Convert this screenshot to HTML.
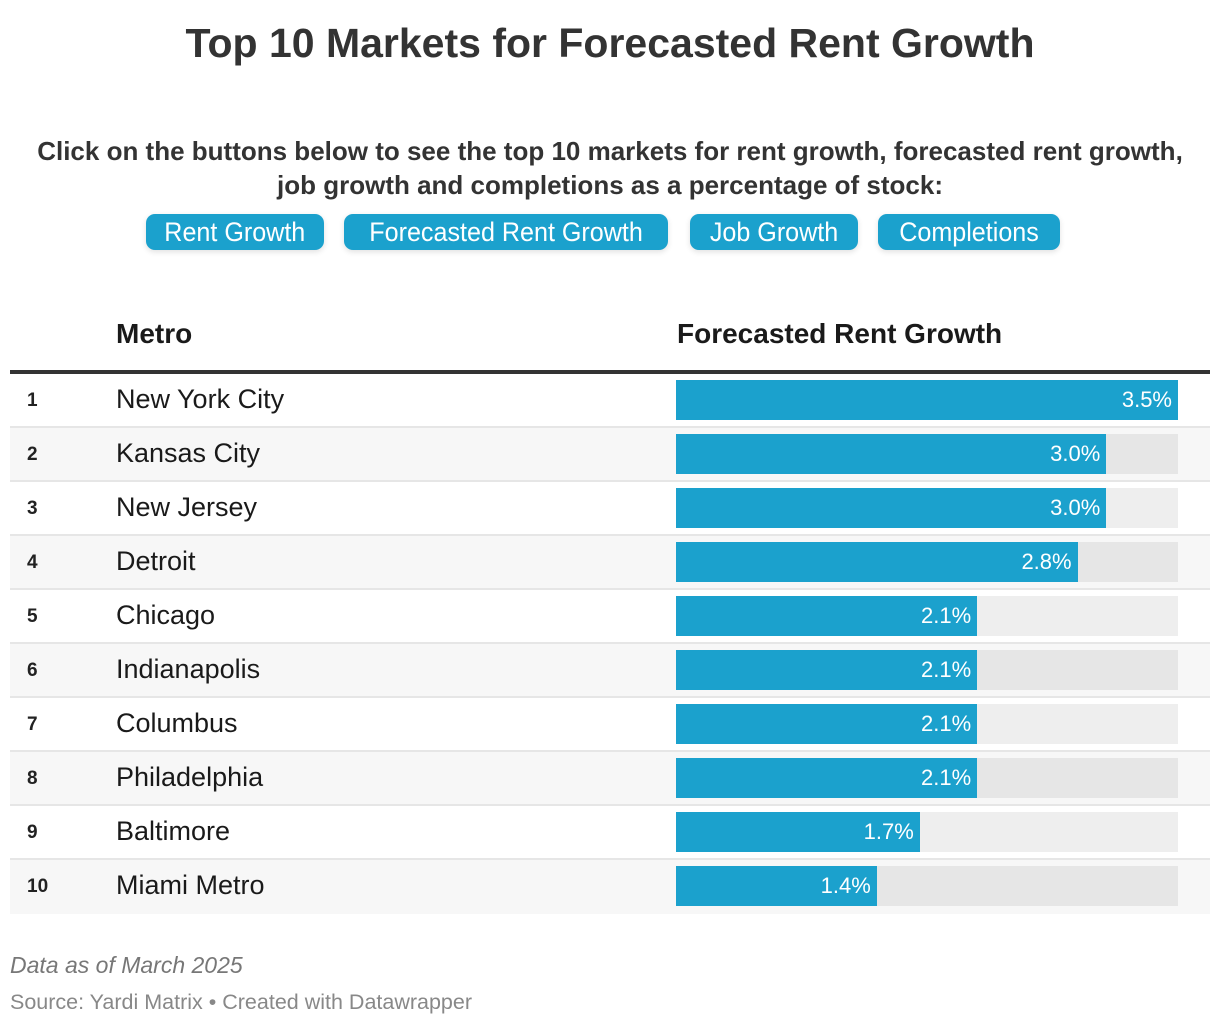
<!DOCTYPE html>
<html><head><meta charset="utf-8"><style>
body{margin:0;width:1220px;height:1026px;background:#fff;font-family:"Liberation Sans",sans-serif;color:#333;position:relative;overflow:hidden}
.abs{position:absolute;white-space:nowrap}
#title{left:0;width:1220px;top:20px;text-align:center;font-size:41px;font-weight:bold;color:#333}
.sub{left:0;width:1220px;text-align:center;font-size:26px;font-weight:bold;color:#333}
.btn{top:214px;height:36px;background:#1ba1cd;border-radius:9px;color:#fff;font-size:27px;line-height:36px;text-align:center;box-shadow:0 2px 6px rgba(0,0,0,.12)}
.btn span{display:inline-block;transform:scaleX(0.93)}
.hdr{top:318px;font-size:28px;font-weight:bold;color:#1a1a1a}
.row{left:10px;width:1200px;height:52px;border-bottom:2px solid #e6e6e6}
.rank{left:17px;font-size:19px;font-weight:bold;color:#222;top:16px}
.name{left:106px;font-size:27px;color:#1a1a1a;top:10px}
.track{left:666px;top:6px;width:502px;height:40px}
.bar{left:0;top:0;height:40px;background:#1ba1cd}
.val{right:6px;top:7px;font-size:22px;color:#fff}
</style></head><body>
<div class="abs" id="title">Top 10 Markets for Forecasted Rent Growth</div>
<div class="abs sub" style="top:136px">Click on the buttons below to see the top 10 markets for rent growth, forecasted rent growth,</div>
<div class="abs sub" style="top:170px">job growth and completions as a percentage of stock:</div>
<div class="abs btn" style="left:146px;width:178px"><span>Rent Growth</span></div>
<div class="abs btn" style="left:344px;width:324px"><span>Forecasted Rent Growth</span></div>
<div class="abs btn" style="left:690px;width:168px"><span>Job Growth</span></div>
<div class="abs btn" style="left:878px;width:182px"><span>Completions</span></div>
<div class="abs hdr" style="left:116px">Metro</div>
<div class="abs hdr" style="left:677px">Forecasted Rent Growth</div>
<div class="abs" style="left:10px;top:370px;width:1200px;height:4px;background:#333"></div>
<div id="rows"></div>
<div class="abs" style="left:10px;top:952px;font-size:23px;font-style:italic;color:#777">Data as of March 2025</div>
<div class="abs" style="left:10px;top:990px;font-size:21.5px;color:#888">Source: Yardi Matrix • Created with Datawrapper</div>
<script>
const metros=["New York City","Kansas City","New Jersey","Detroit","Chicago","Indianapolis","Columbus","Philadelphia","Baltimore","Miami Metro"];
const values=[3.5,3.0,3.0,2.8,2.1,2.1,2.1,2.1,1.7,1.4];
const maxValue=3.5;
const trackW=502;
function xScale(v){return v/maxValue*trackW;}
const container=document.getElementById('rows');
metros.forEach((m,i)=>{
  const row=document.createElement('div');
  row.className='abs row';
  
  
  row.style.top=(374+i*54)+'px';
  row.style.background=i%2?'#f7f7f7':'#fff';
  if(i===metros.length-1){row.style.borderBottom='none';row.style.height='54px';}
  const r=document.createElement('div');
  r.className='abs rank';r.textContent=String(i+1);
  
  
  const n=document.createElement('div');
  n.className='abs name';n.textContent=m;
  
  
  const t=document.createElement('div');
  t.className='abs track';t.style.background=i%2?'#e6e6e6':'#eeeeee';
  
  
  const b=document.createElement('div');
  b.className='abs bar';b.style.width=xScale(values[i])+'px';
  
  
  const v=document.createElement('div');
  v.className='abs val';v.textContent=values[i].toFixed(1)+'%';
  
  
  b.appendChild(v);t.appendChild(b);
  row.appendChild(r);row.appendChild(n);row.appendChild(t);
  container.appendChild(row);
});
</script>
</body></html>
